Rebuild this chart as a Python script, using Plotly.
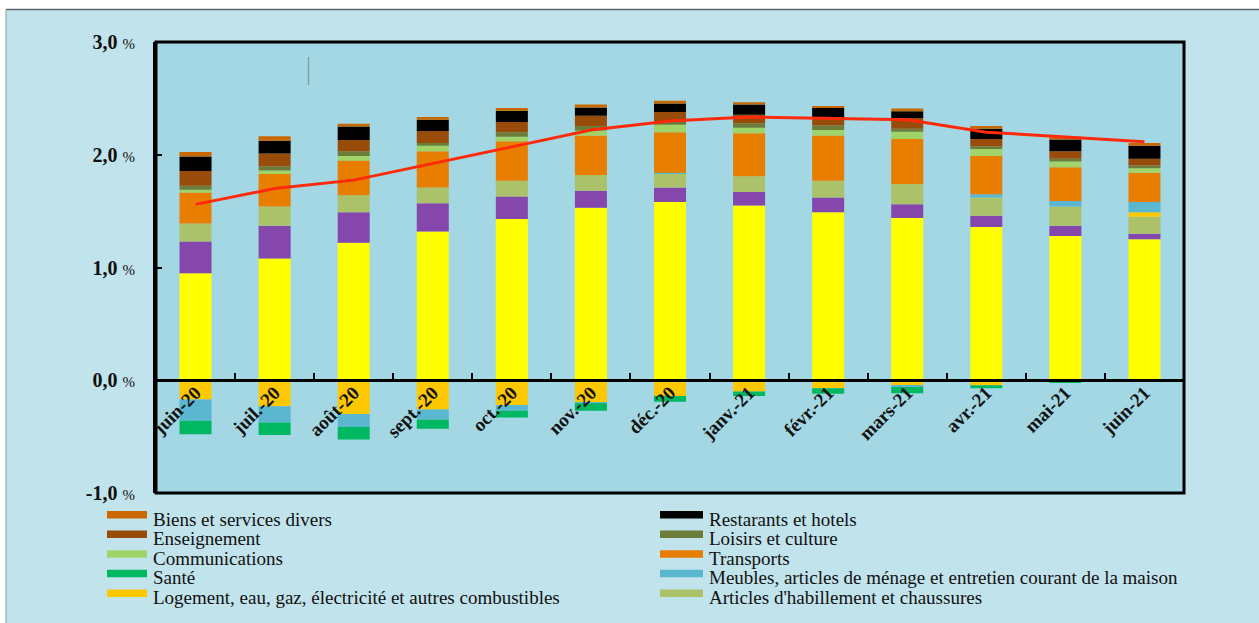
import plotly.graph_objects as go

# Mois (glissement annuel)
mois = ["juin-20", "juil.-20", "août-20", "sept.-20", "oct.-20", "nov.-20", "déc.-20",
        "janv.-21", "févr.-21", "mars-21", "avr.-21", "mai-21", "juin-21"]

# Contributions par fonction de consommation (points de %)
alimentation = [0.95, 1.08, 1.22, 1.32, 1.43, 1.53, 1.58, 1.55, 1.49, 1.44, 1.36, 1.28, 1.25]
boissons_tabac = [0.28, 0.29, 0.27, 0.25, 0.20, 0.15, 0.13, 0.12, 0.13, 0.12, 0.10, 0.09, 0.05]
habillement = [0.16, 0.17, 0.15, 0.14, 0.14, 0.14, 0.12, 0.14, 0.15, 0.18, 0.16, 0.17, 0.15]
logement = [-0.17, -0.23, -0.30, -0.26, -0.22, -0.20, -0.14, -0.10, -0.07, -0.05, -0.045, 0.0, 0.04]
meubles = [-0.19, -0.145, -0.115, -0.09, -0.05, -0.005, 0.01, 0.0, 0.0, -0.01, 0.03, 0.05, 0.09]
sante = [-0.12, -0.11, -0.11, -0.08, -0.06, -0.065, -0.05, -0.04, -0.05, -0.055, -0.025, -0.025, 0.0]
transports = [0.275, 0.29, 0.31, 0.32, 0.35, 0.35, 0.36, 0.38, 0.40, 0.40, 0.34, 0.30, 0.26]
communications = [0.025, 0.03, 0.04, 0.05, 0.04, 0.045, 0.065, 0.05, 0.05, 0.065, 0.06, 0.05, 0.04]
loisirs = [0.035, 0.035, 0.04, 0.025, 0.04, 0.04, 0.025, 0.04, 0.04, 0.025, 0.025, 0.025, 0.025]
enseignement = [0.13, 0.115, 0.10, 0.105, 0.09, 0.09, 0.09, 0.075, 0.065, 0.095, 0.065, 0.065, 0.06]
restaurants = [0.13, 0.115, 0.12, 0.10, 0.10, 0.075, 0.075, 0.09, 0.09, 0.06, 0.09, 0.105, 0.115]
divers = [0.04, 0.04, 0.025, 0.025, 0.025, 0.025, 0.025, 0.02, 0.015, 0.025, 0.025, 0.025, 0.025]

# Inflation d'ensemble
inflation = [1.56, 1.70, 1.775, 1.92, 2.07, 2.22, 2.30, 2.335, 2.32, 2.31, 2.20, 2.16, 2.115]

# Axe des ordonnées
y_ticks = [-1, 0, 1, 2, 3]
y_tick_labels = ["-1,0", "0,0", "1,0", "2,0", "3,0"]

series = [
    ("Produits alimentaires et boissons non alcoolisées", alimentation, "#ffff00"),
    ("Boissons alcoolisées et tabac", boissons_tabac, "#8547ab"),
    ("Articles d'habillement et chaussures", habillement, "#abc26b"),
    ("Logement, eau, gaz, électricité et autres combustibles", logement, "#fec800"),
    ("Meubles, articles de ménage et entretien courant de la maison", meubles, "#5ab7cf"),
    ("Santé", sante, "#00b862"),
    ("Transports", transports, "#e87e00"),
    ("Communications", communications, "#a0d468"),
    ("Loisirs et culture", loisirs, "#6c7d3a"),
    ("Enseignement", enseignement, "#994b0a"),
    ("Restarants et hotels", restaurants, "#000000"),
    ("Biens et services divers", divers, "#c96800"),
]

W, H = 1259, 623
L, R, T, B = 156, 1184, 42, 493  # plot area in pixels


def fx(px):
    return (px - L) / (R - L)


def fy(py):
    return (B - py) / (B - T)


SERIF = "Liberation Serif, Times New Roman, serif"

fig = go.Figure()
for name, vals, col in series:
    fig.add_trace(go.Bar(x=mois, y=vals, name=name, marker=dict(color=col, line=dict(width=0)),
                         showlegend=False))

fig.add_trace(go.Scatter(x=mois, y=inflation, name="Inflation", mode="lines",
                         line=dict(color="#ff2a0a", width=3), showlegend=False))

shapes = []
annotations = []

# white strips outside the chart frame + frame edges
shapes.append(dict(type="rect", xref="paper", yref="paper", x0=fx(-5), x1=fx(W + 5), y0=fy(9), y1=fy(-5),
                   fillcolor="white", line=dict(width=0), layer="above"))
shapes.append(dict(type="rect", xref="paper", yref="paper", x0=fx(-5), x1=fx(6), y0=fy(W), y1=fy(-5),
                   fillcolor="white", line=dict(width=0), layer="above"))
shapes.append(dict(type="line", xref="paper", yref="paper", x0=fx(6), x1=fx(W + 5), y0=fy(9.5), y1=fy(9.5),
                   line=dict(color="#5c6468", width=1.5)))
shapes.append(dict(type="line", xref="paper", yref="paper", x0=fx(6), x1=fx(6), y0=fy(9.5), y1=fy(H + 5),
                   line=dict(color="#8a9ca2", width=1)))

# plot frame
shapes.append(dict(type="rect", xref="paper", yref="paper", x0=0, x1=1, y0=0, y1=1,
                   line=dict(color="black", width=3)))

# small stray vertical stroke
shapes.append(dict(type="line", xref="paper", yref="paper", x0=fx(308.5), x1=fx(308.5), y0=fy(57), y1=fy(85),
                   line=dict(color="#7d9aa8", width=1.3)))

# legend (two columns)
by_name = {n: c for n, _, c in series}
rows = [("Biens et services divers", "Restarants et hotels"),
        ("Enseignement", "Loisirs et culture"),
        ("Communications", "Transports"),
        ("Santé", "Meubles, articles de ménage et entretien courant de la maison"),
        ("Logement, eau, gaz, électricité et autres combustibles", "Articles d'habillement et chaussures")]
cols = [(107, 147, 151), (660, 703, 707)]
for i, row in enumerate(rows):
    top = 511 + i * 19.6
    for (sx0, sx1, tx), nm in zip(cols, row):
        shapes.append(dict(type="rect", xref="paper", yref="paper", x0=fx(sx0), x1=fx(sx1),
                           y0=fy(top + 7.5), y1=fy(top), fillcolor=by_name[nm], line=dict(width=0)))
        annotations.append(dict(xref="paper", yref="paper", x=fx(tx), y=fy(top + 8), text=nm,
                                showarrow=False, xanchor="left", yanchor="middle",
                                font=dict(family=SERIF, size=19, color="#111")))

fig.update_layout(
    width=W, height=H,
    margin=dict(l=L, r=W - R, t=T, b=H - B, pad=0),
    paper_bgcolor="#c1e3eb",
    plot_bgcolor="#a2d7e3",
    barmode="relative",
    bargap=0.595,
    showlegend=False,
    shapes=shapes,
    annotations=annotations,
    xaxis=dict(
        type="category",
        anchor="free", position=0.25,
        showline=True, linecolor="black", linewidth=3,
        ticks="inside", tickson="boundaries", ticklen=6, tickwidth=2, tickcolor="black",
        tickangle=-45,
        tickfont=dict(family=SERIF, size=19, color="#111"),
        ticktext=["<b>%s</b>" % m for m in mois], tickvals=mois,
        ticklabelstandoff=-8,
        showgrid=False, zeroline=False,
    ),
    yaxis=dict(
        range=[-1, 3],
        showline=True, linecolor="black", linewidth=3,
        ticks="inside", ticklen=6, tickwidth=2, tickcolor="black",
        tickvals=y_ticks,
        ticktext=["<b>%s</b> <span style='font-size:15px'>%%</span>" % t for t in y_tick_labels],
        tickfont=dict(family=SERIF, size=20, color="#111"),
        ticklabelstandoff=14,
        showgrid=False, zeroline=False,
    ),
)

fig.write_html("out.html")
